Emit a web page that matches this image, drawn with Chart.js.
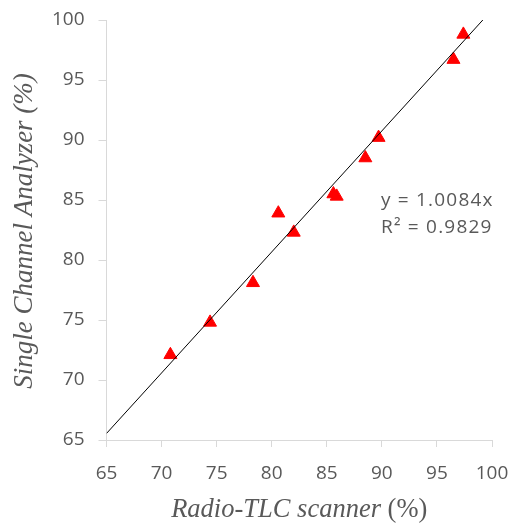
<!DOCTYPE html>
<html>
<head>
<meta charset="utf-8">
<script src="https://cdn.jsdelivr.net/npm/chart.js@4"></script>
<style>
  html, body { margin: 0; padding: 0; background: #fff; }
  #wrap { width: 517px; height: 523px; }
</style>
</head>
<body>
<div id="wrap"><canvas id="chart" width="517" height="523"></canvas></div>
<script>
// Radio-TLC scanner vs single channel analyzer (%)
const tlcValues = [70.8, 74.4, 78.3, 80.6, 82.0, 85.6, 85.9, 88.5, 89.7, 96.5, 97.4];
const scaValues = [72.1, 74.8, 78.1, 83.9, 82.3, 85.5, 85.3, 88.5, 90.2, 96.7, 98.8];

// fitted line through origin, as given by the equation label
const SLOPE = 1.0084;
const trendX = [65, 100 / SLOPE];
const eqLines = ['y = 1.0084x', 'R\u00b2 = 0.9829'];

const xTicks = [65, 70, 75, 80, 85, 90, 95, 100];
const yTicks = [65, 70, 75, 80, 85, 90, 95, 100];

const TEXT = '#595959';
const AXIS = '#d9d9d9';
const TICK_FONT = { family: "'Open Sans', sans-serif", size: 19 };
const SERIF = '"Liberation Serif", serif';

const titles = {
  id: 'titles',
  afterDraw(chart) {
    const ctx = chart.ctx;
    const area = chart.chartArea;
    ctx.save();
    ctx.fillStyle = TEXT;

    // x title: italic name, upright unit
    const name = 'Radio-TLC scanner';
    const unit = ' (%)';
    ctx.font = 'italic 26.5px ' + SERIF;
    const w1 = ctx.measureText(name).width;
    ctx.font = 'normal 26.5px ' + SERIF;
    const w2 = ctx.measureText(unit).width;
    const cx = (area.left + area.right) / 2;
    const x0 = cx - (w1 + w2) / 2;
    ctx.textBaseline = 'middle';
    ctx.textAlign = 'left';
    ctx.font = 'italic 26.5px ' + SERIF;
    ctx.fillText(name, x0, 510);
    ctx.font = 'normal 26.5px ' + SERIF;
    ctx.fillText(unit, x0 + w1, 510);

    // y title
    ctx.save();
    ctx.translate(25, 231);
    ctx.rotate(-Math.PI / 2);
    ctx.textAlign = 'center';
    ctx.font = 'italic 27px ' + SERIF;
    ctx.fillText('Single Channel Analyzer (%)', 0, 0);
    ctx.restore();

    // equation label
    ctx.font = "19px 'Open Sans', sans-serif";
    ctx.letterSpacing = '1.2px';
    ctx.textAlign = 'left';
    ctx.fillText(eqLines[0], 381, 201);
    ctx.fillText(eqLines[1], 381, 228);
    ctx.restore();
  },
};

function draw() {
  new Chart(document.getElementById('chart'), {
    type: 'scatter',
    data: {
      datasets: [
        {
          label: 'Linear',
          type: 'line',
          data: trendX.map(x => ({ x, y: SLOPE * x })),
          borderColor: '#000000',
          borderWidth: 1,
          pointRadius: 0,
          fill: false,
        },
        {
          label: 'Samples',
          data: tlcValues.map((x, i) => ({ x, y: scaValues[i] })),
          pointStyle: 'triangle',
          pointRadius: 7.5,
          borderWidth: 1,
          backgroundColor: '#ff0000',
          borderColor: '#ff0000',
        },
      ],
    },
    options: {
      responsive: false,
      animation: false,
      layout: { padding: { left: 0, top: 20, right: 25, bottom: 0 } },
      plugins: {
        legend: { display: false },
        tooltip: { enabled: false },
      },
      scales: {
        x: {
          type: 'linear',
          min: 65,
          max: 100,
          afterBuildTicks: s => { s.ticks = xTicks.map(v => ({ value: v })); },
          afterFit: s => { s.height = 83; s.paddingLeft = 0; s.paddingRight = 0; },
          ticks: { color: TEXT, font: TICK_FONT, padding: 15 },
          grid: { drawOnChartArea: false, drawTicks: true, tickLength: 7, color: AXIS },
          border: { color: AXIS },
        },
        y: {
          type: 'linear',
          min: 65,
          max: 100,
          afterBuildTicks: s => { s.ticks = yTicks.map(v => ({ value: v })); },
          afterFit: s => { s.width = 106.5; s.paddingTop = 0; s.paddingBottom = 0; },
          ticks: { color: TEXT, font: TICK_FONT, padding: 14 },
          grid: { drawOnChartArea: false, drawTicks: true, tickLength: 8, color: AXIS },
          border: { color: AXIS },
        },
      },
    },
    plugins: [titles],
  });
}

Promise.all([
  document.fonts.load('italic 24px "Liberation Serif"'),
  document.fonts.load('24px "Liberation Serif"'),
  document.fonts.load('19px "Open Sans"'),
]).then(draw, draw);
</script>
</body>
</html>
